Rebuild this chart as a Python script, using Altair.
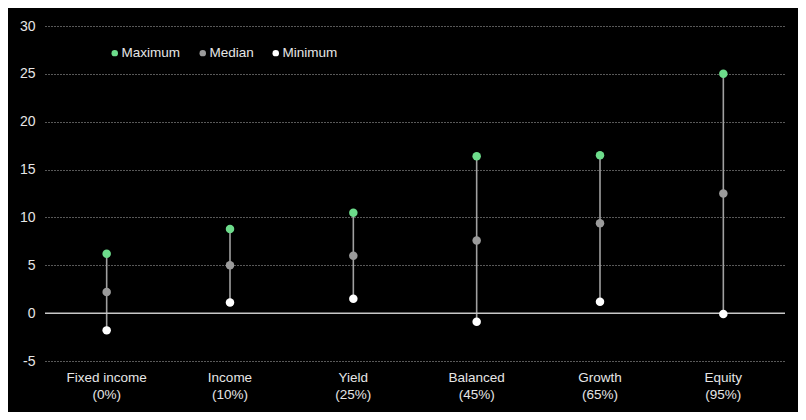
import altair as alt
import pandas as pd

categories = ["Fixed income", "Income", "Yield", "Balanced", "Growth", "Equity"]
equity_share = ["(0%)", "(10%)", "(25%)", "(45%)", "(65%)", "(95%)"]
maximum = [6.2, 8.8, 10.5, 16.4, 16.5, 25.0]
median = [2.2, 5.0, 6.0, 7.6, 9.4, 12.5]
minimum = [-1.8, 1.1, 1.5, -0.9, 1.2, -0.1]
y_ticks = [-5, 0, 5, 10, 15, 20, 25, 30]
stats = ["Maximum", "Median", "Minimum"]
stat_colors = ["#6ddc8b", "#9b9b9b", "#ffffff"]

labels = [f"{c}\n{p}" for c, p in zip(categories, equity_share)]

wide = pd.DataFrame({"label": labels, "Maximum": maximum, "Median": median, "Minimum": minimum})
long = wide.melt(id_vars="label", value_vars=stats, var_name="stat", value_name="value")

FONT = "Liberation Sans"

x_enc = alt.X(
    "label:N",
    sort=labels,
    title=None,
    axis=alt.Axis(
        labelExpr="split(datum.label, '\\n')",
        labelAngle=0,
        labelColor="#e6e6e6",
        labelFontSize=13.5,
        labelFont=FONT,
        labelPadding=9,
        labelLineHeight=17,
        ticks=False,
        domain=False,
        grid=False,
    ),
    scale=alt.Scale(paddingInner=0, paddingOuter=0),
)
y_scale = alt.Scale(domain=[-5, 30], nice=False, zero=False)
y_axis = alt.Axis(
    values=y_ticks,
    labelExpr="'' + datum.value",
    labelColor="#e6e6e6",
    labelFontSize=14,
    labelFont=FONT,
    labelPadding=10,
    ticks=False,
    domain=False,
    grid=True,
    gridColor="#b0b0b0",
    gridDash=[1, 2],
    gridWidth=1,
)

base = alt.Chart(wide)

rules = base.mark_rule(color="#a0a0a0", strokeWidth=1.6).encode(
    x=x_enc,
    y=alt.Y("Minimum:Q", scale=y_scale, axis=y_axis, title=None),
    y2="Maximum:Q",
)

zero = alt.Chart(pd.DataFrame({"z": [0]})).mark_rule(color="#c8c8c8", strokeWidth=1.5).encode(
    y=alt.Y("z:Q", scale=y_scale)
)

points = alt.Chart(long).mark_circle(size=72, opacity=1).encode(
    x=alt.X("label:N", sort=labels),
    y=alt.Y("value:Q", scale=y_scale),
    color=alt.Color(
        "stat:N",
        scale=alt.Scale(domain=stats, range=stat_colors),
        legend=alt.Legend(
            title=None,
            orient="none",
            direction="horizontal",
            legendX=63,
            legendY=20,
            symbolType="circle",
            symbolSize=42,
            labelColor="#e6e6e6",
            labelFontSize=13.5,
            labelFont=FONT,
            labelOffset=0,
            columnPadding=15,
        ),
    ),
)

chart = (
    alt.layer(rules, zero, points)
    .properties(
        width=740,
        height=335,
        background="#000000",
        padding={"left": 37, "top": 18, "right": 13, "bottom": 51},
        autosize=alt.AutoSizeParams(type="none"),
    )
    .configure_view(stroke=None)
)

chart.save("out.html", embed_options={"renderer": "svg", "actions": False})
